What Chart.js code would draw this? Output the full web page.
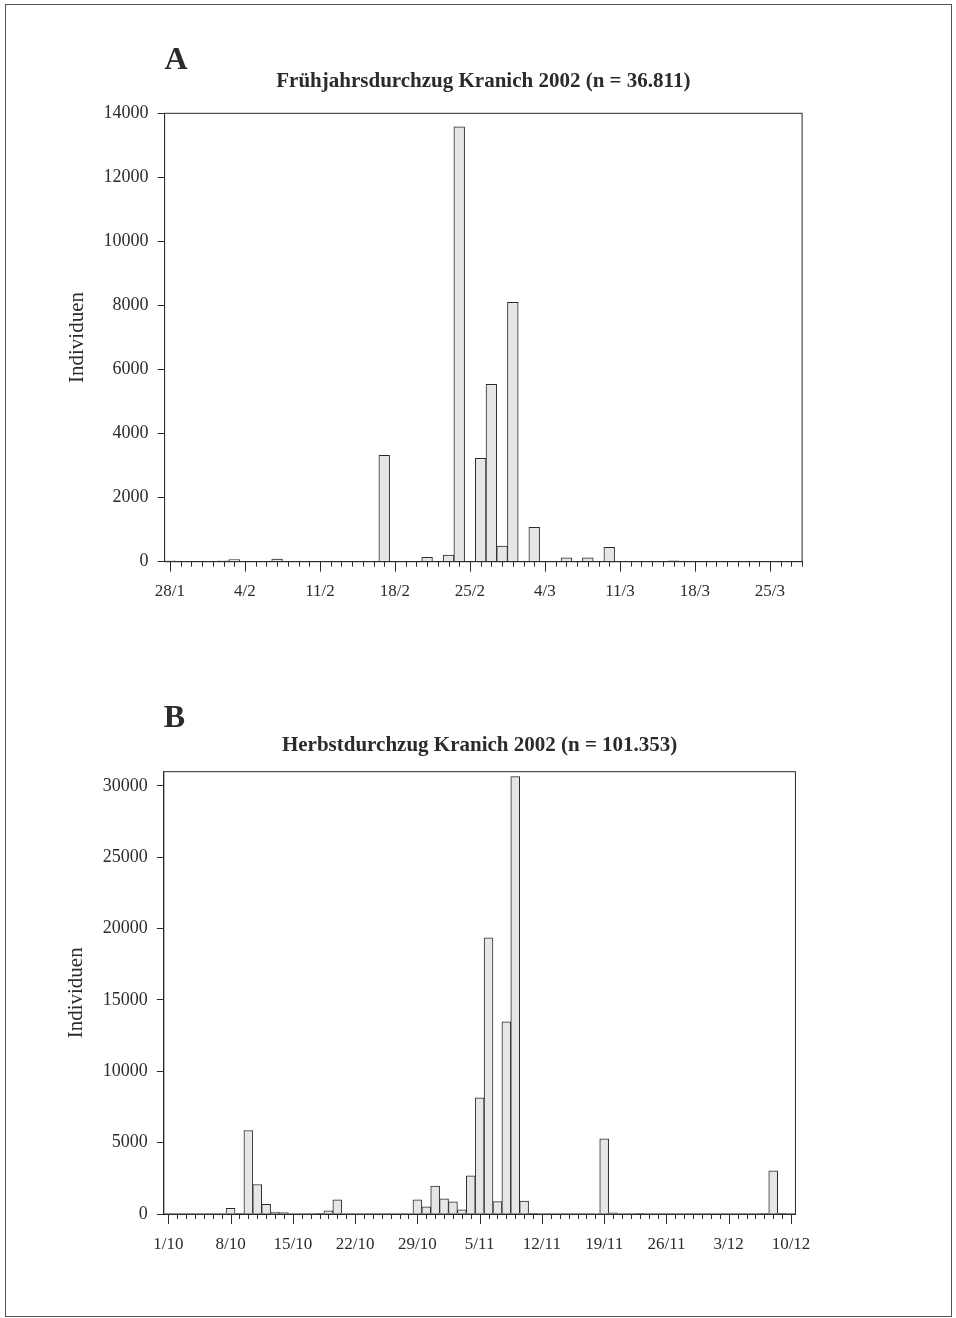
<!DOCTYPE html>
<html lang="de">
<head>
<meta charset="utf-8">
<title>Kranich 2002</title>
<script src="https://cdn.jsdelivr.net/npm/chart.js@4.4.1/dist/chart.umd.min.js"></script>
<style>
  html, body { margin: 0; padding: 0; background: #fff; }
  #page { position: relative; width: 956px; height: 1318px; overflow: hidden; }
  #sheet { position: absolute; left: 5px; top: 4px; width: 947px; height: 1313px; border: 1px solid #555; box-sizing: border-box; }
  .panel { position: absolute; left: 0; width: 956px; }
  #panelA { top: 0; height: 640px; }
  #panelB { top: 650px; height: 668px; }
</style>
</head>
<body>
<div id="page">
  <div id="sheet"></div>
  <div class="panel" id="panelA"><canvas id="chartA"></canvas></div>
  <div class="panel" id="panelB"><canvas id="chartB"></canvas></div>
</div>
<script>
  // Fruehjahr: Tag 0 = 28/1
  const springTickLabels = ['28/1', '4/2', '11/2', '18/2', '25/2', '4/3', '11/3', '18/3', '25/3'];
  const springDays = [0, 5, 6, 10, 20, 24, 26, 27, 29, 30, 31, 32, 34, 37, 39, 41, 43, 47, 51, 56];
  const springCounts = [30, 30, 70, 80, 3320, 135, 210, 13580, 3230, 5540, 490, 8100, 1070, 120, 120, 450, 20, 25, 10, 15];
  const springYTicks = [0, 2000, 4000, 6000, 8000, 10000, 12000, 14000];

  // Herbst: Tag 0 = 1/10
  const autumnTickLabels = ['1/10', '8/10', '15/10', '22/10', '29/10', '5/11', '12/11', '19/11', '26/11', '3/12', '10/12'];
  const autumnDays = [7, 8, 9, 10, 11, 12, 13, 17, 18, 19, 28, 29, 30, 31, 32, 33, 34, 35, 36, 37, 38, 39, 40, 41, 49, 50, 53, 67, 68, 69];
  const autumnCounts = [400, 30, 5850, 2070, 680, 140, 100, 30, 230, 1000, 1000, 510, 1960, 1070, 860, 300, 2680, 8150, 19360, 870, 13470, 30660, 910, 20, 5270, 90, 30, 40, 3030, 60];
  const autumnYTicks = [0, 5000, 10000, 15000, 20000, 25000, 30000];

  const serif = "'Liberation Serif', 'Times New Roman', serif";
  const ink = '#2b2b2b';

  // Rahmen um die Plotflaeche + kurze/lange Tagesstriche an der x-Achse
  const frameAndTicks = {
    id: 'frameAndTicks',
    afterDatasetsDraw(chart) {
      const { ctx, chartArea: a, scales: { x } } = chart;
      ctx.save();
      ctx.strokeStyle = ink;
      ctx.lineWidth = 1;
      ctx.strokeRect(a.left, a.top, a.right - a.left, a.bottom - a.top);
      x.ticks.forEach(t => {
        const px = Math.round(x.getPixelForValue(t.value)) + 0.5;
        const len = t.value % 7 === 0 ? 10 : 5;
        ctx.beginPath();
        ctx.moveTo(px, a.bottom);
        ctx.lineTo(px, a.bottom + len);
        ctx.stroke();
      });
      ctx.restore();
    }
  };

  function makeChart(id, cfg) {
    const ctx = document.getElementById(id);
    return new Chart(ctx, {
      type: 'bar',
      data: {
        datasets: [{
          data: cfg.days.map((d, i) => ({ x: d, y: cfg.counts[i] })),
          backgroundColor: '#e6e6e6',
          borderColor: ink,
          borderWidth: 1,
          categoryPercentage: 1,
          barPercentage: 1
        }]
      },
      options: {
        responsive: true,
        maintainAspectRatio: false,
        animation: false,
        layout: { padding: cfg.pad },
        plugins: {
          legend: { display: false },
          tooltip: { enabled: false },
          title: {
            display: true,
            text: cfg.letter,
            align: 'start',
            fullSize: false,
            color: ink,
            font: { family: serif, size: 32, weight: 'bold', lineHeight: 0.6 },
            padding: 0
          },
          subtitle: {
            display: true,
            text: cfg.title,
            fullSize: false,
            color: ink,
            font: { family: serif, size: 21, weight: 'bold', lineHeight: 1 },
            padding: cfg.titlePad
          }
        },
        scales: {
          x: {
            type: 'linear',
            min: -0.5,
            max: cfg.xMax,
            offset: false,
            grid: { display: true, offset: false, drawOnChartArea: false, drawTicks: true, tickLength: 10, tickColor: 'rgba(0,0,0,0)' },
            border: { display: true, color: ink },
            afterBuildTicks: scale => {
              const ticks = [];
              for (let d = 0; d <= cfg.lastTick; d++) ticks.push({ value: d });
              scale.ticks = ticks;
            },
            afterFit: scale => { scale.height = 60; },
            ticks: {
              autoSkip: false,
              maxRotation: 0,
              padding: 10,
              color: ink,
              font: { family: serif, size: 17 },
              callback: v => (v % 7 === 0 ? cfg.tickLabels[v / 7] : '')
            }
          },
          y: {
            min: 0,
            max: cfg.yMax,
            grid: { display: true, drawOnChartArea: false, drawTicks: true, tickLength: 7, tickColor: ink },
            border: { display: true, color: ink },
            afterBuildTicks: scale => { scale.ticks = cfg.yTicks.map(v => ({ value: v })); },
            afterFit: scale => { scale.width = 100; },
            ticks: {
              padding: 9,
              color: ink,
              font: { family: serif, size: 18 },
              callback: v => String(v)
            },
            title: {
              display: true,
              text: 'Individuen',
              color: ink,
              font: { family: serif, size: 21 },
              padding: 0
            }
          }
        }
      },
      plugins: [frameAndTicks]
    });
  }

  makeChart('chartA', {
    days: springDays,
    counts: springCounts,
    tickLabels: springTickLabels,
    yTicks: springYTicks,
    xMax: 59,
    lastTick: 59,
    yMax: 14000,
    letter: 'A',
    title: 'Frühjahrsdurchzug Kranich 2002 (n = 36.811)',
    pad: { left: 64.6, right: 153.9, top: 51.4, bottom: 18.3 },
    titlePad: { top: 0, bottom: 21.7 }
  });

  makeChart('chartB', {
    days: autumnDays,
    counts: autumnCounts,
    tickLabels: autumnTickLabels,
    yTicks: autumnYTicks,
    xMax: 70.5,
    lastTick: 70,
    yMax: 31000,
    letter: 'B',
    title: 'Herbstdurchzug Kranich 2002 (n = 101.353)',
    pad: { left: 63.85, right: 160.55, top: 59.4, bottom: 44 },
    titlePad: { top: 6.9, bottom: 15.2 }
  });
</script>
</body>
</html>
